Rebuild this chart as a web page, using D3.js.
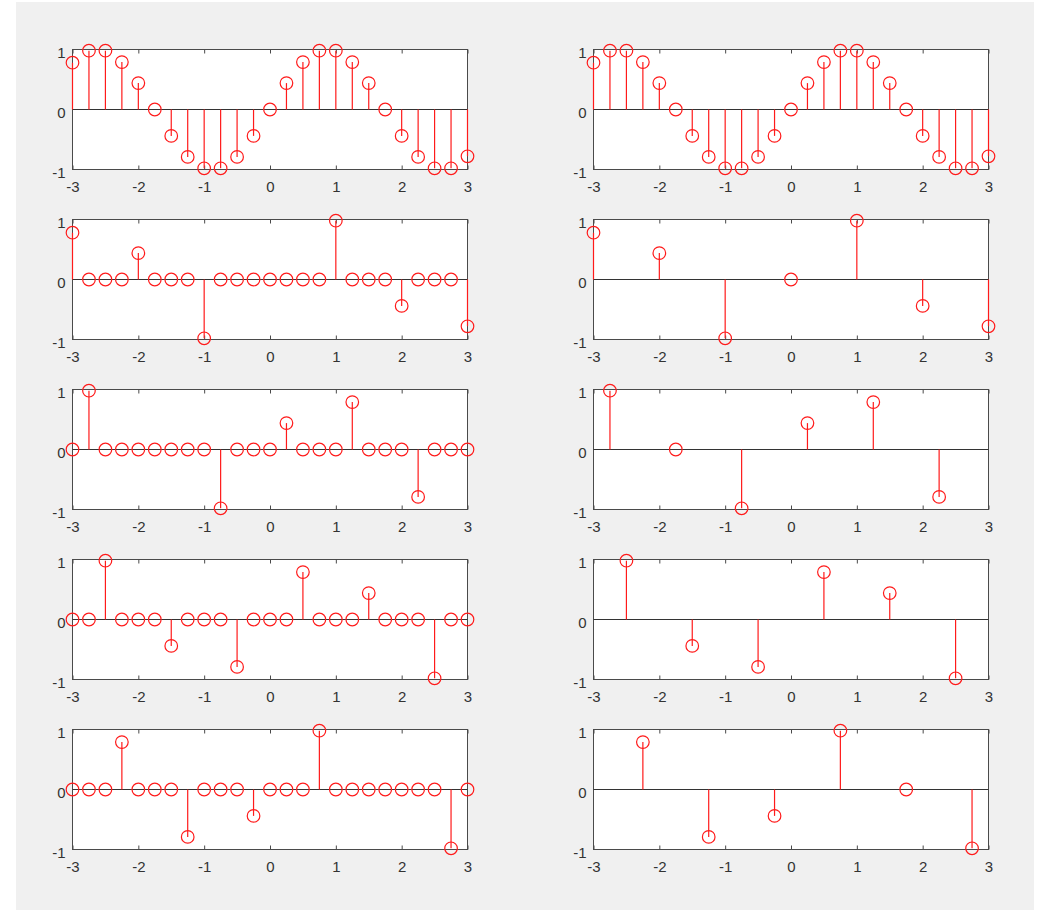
<!DOCTYPE html>
<html>
<head>
<meta charset="utf-8">
<script src="https://cdn.jsdelivr.net/npm/d3@7"></script>
<style>
  html, body { margin: 0; padding: 0; background: #fff; }
  text { font-family: "Liberation Sans", Arial, sans-serif; }
</style>
</head>
<body>
<div id="chart"></div>
<script>
// Sample positions and the original signal
const xFull = [-3, -2.75, -2.5, -2.25, -2, -1.75, -1.5, -1.25, -1, -0.75, -0.5, -0.25, 0,
               0.25, 0.5, 0.75, 1, 1.25, 1.5, 1.75, 2, 2.25, 2.5, 2.75, 3];
const signal = [0.78, 0.98, 0.98, 0.79, 0.44, 0, -0.44, -0.79, -0.98, -0.98, -0.79, -0.44, 0,
                0.44, 0.79, 0.98, 0.98, 0.79, 0.44, 0, -0.44, -0.79, -0.98, -0.98, -0.78];

// Left column: every 4th sample kept, the rest set to zero
const kept0 = [0.78, 0, 0, 0, 0.44, 0, 0, 0, -0.98, 0, 0, 0, 0,
               0, 0, 0, 0.98, 0, 0, 0, -0.44, 0, 0, 0, -0.78];
const kept1 = [0, 0.98, 0, 0, 0, 0, 0, 0, 0, -0.98, 0, 0, 0,
               0.44, 0, 0, 0, 0.79, 0, 0, 0, -0.79, 0, 0, 0];
const kept2 = [0, 0, 0.98, 0, 0, 0, -0.44, 0, 0, 0, -0.79, 0, 0,
               0, 0.79, 0, 0, 0, 0.44, 0, 0, 0, -0.98, 0, 0];
const kept3 = [0, 0, 0, 0.79, 0, 0, 0, -0.79, 0, 0, 0, -0.44, 0,
               0, 0, 0.98, 0, 0, 0, 0, 0, 0, 0, -0.98, 0];

// Right column: only the kept samples
const xDec0 = [-3, -2, -1, 0, 1, 2, 3];
const yDec0 = [0.78, 0.44, -0.98, 0, 0.98, -0.44, -0.78];
const xDec1 = [-2.75, -1.75, -0.75, 0.25, 1.25, 2.25];
const yDec1 = [0.98, 0, -0.98, 0.44, 0.79, -0.79];
const xDec2 = [-2.5, -1.5, -0.5, 0.5, 1.5, 2.5];
const yDec2 = [0.98, -0.44, -0.79, 0.79, 0.44, -0.98];
const xDec3 = [-2.25, -1.25, -0.25, 0.75, 1.75, 2.75];
const yDec3 = [0.79, -0.79, -0.44, 0.98, 0, -0.98];

const xTicks = [-3, -2, -1, 0, 1, 2, 3];
const yTicks = [-1, 0, 1];

const panels = [
  { row: 0, col: 0, x: xFull, y: signal },
  { row: 0, col: 1, x: xFull, y: signal },
  { row: 1, col: 0, x: xFull, y: kept0 },
  { row: 1, col: 1, x: xDec0, y: yDec0 },
  { row: 2, col: 0, x: xFull, y: kept1 },
  { row: 2, col: 1, x: xDec1, y: yDec1 },
  { row: 3, col: 0, x: xFull, y: kept2 },
  { row: 3, col: 1, x: xDec2, y: yDec2 },
  { row: 4, col: 0, x: xFull, y: kept3 },
  { row: 4, col: 1, x: xDec3, y: yDec3 }
];

const W = 1038, H = 910;
const axW = 395, axH = 120;
const colLeft = [72, 593];
const rowTop = 49, rowStep = 170;
const axisCol = "#4a4a4a", textCol = "#333", stemCol = "#ff1a1a";

const svg = d3.select("#chart")
  .append("svg")
  .attr("width", W)
  .attr("height", H);

// figure background
svg.append("rect")
  .attr("x", 16).attr("y", 2)
  .attr("width", 1018).attr("height", H - 2)
  .attr("fill", "#f0f0f0");

panels.forEach(p => {
  const left = colLeft[p.col], top = rowTop + p.row * rowStep;
  const g = svg.append("g").attr("transform", `translate(${left + 0.5},${top + 0.5})`);

  const x = d3.scaleLinear().domain([-3, 3]).range([0, axW]);
  const y = d3.scaleLinear().domain([-1, 1]).range([axH, 0]);

  g.append("rect")
    .attr("width", axW).attr("height", axH)
    .attr("fill", "#fff")
    .attr("stroke", axisCol);

  // bottom axis with inward ticks
  const xb = g.append("g")
    .attr("transform", `translate(0,${axH})`)
    .call(d3.axisBottom(x).tickValues(xTicks).tickSizeInner(-4).tickSizeOuter(0)
      .tickPadding(12).tickFormat(d => String(d)));
  // top axis, ticks only
  const xt = g.append("g")
    .call(d3.axisTop(x).tickValues(xTicks).tickSizeInner(-4).tickSizeOuter(0)
      .tickFormat(""));
  const yl = g.append("g")
    .call(d3.axisLeft(y).tickValues(yTicks).tickSize(0).tickPadding(7)
      .tickFormat(d => String(d)));

  [xb, xt, yl].forEach(a => {
    a.select(".domain").remove();
    a.selectAll("line").attr("stroke", axisCol);
    a.selectAll("text")
      .attr("fill", textCol)
      .style("font-size", "15px")
      .style("font-family", "'Liberation Sans', Arial, sans-serif");
  });
  yl.selectAll("text").attr("dy", "0.5em");

  // baseline
  g.append("line")
    .attr("x1", x(-3)).attr("x2", x(3))
    .attr("y1", y(0)).attr("y2", y(0))
    .attr("stroke", "#333")
    .attr("stroke-width", 1.2);

  const pts = p.x.map((v, i) => ({ x: v, y: p.y[i] }));

  g.selectAll(".stem")
    .data(pts)
    .join("line")
    .attr("class", "stem")
    .attr("x1", d => x(d.x)).attr("x2", d => x(d.x))
    .attr("y1", y(0)).attr("y2", d => y(d.y))
    .attr("stroke", stemCol)
    .attr("stroke-width", 1.2);

  g.selectAll(".marker")
    .data(pts)
    .join("circle")
    .attr("class", "marker")
    .attr("cx", d => x(d.x))
    .attr("cy", d => y(d.y))
    .attr("r", 6.3)
    .attr("fill", "none")
    .attr("stroke", stemCol)
    .attr("stroke-width", 1.2);
});
</script>
</body>
</html>
